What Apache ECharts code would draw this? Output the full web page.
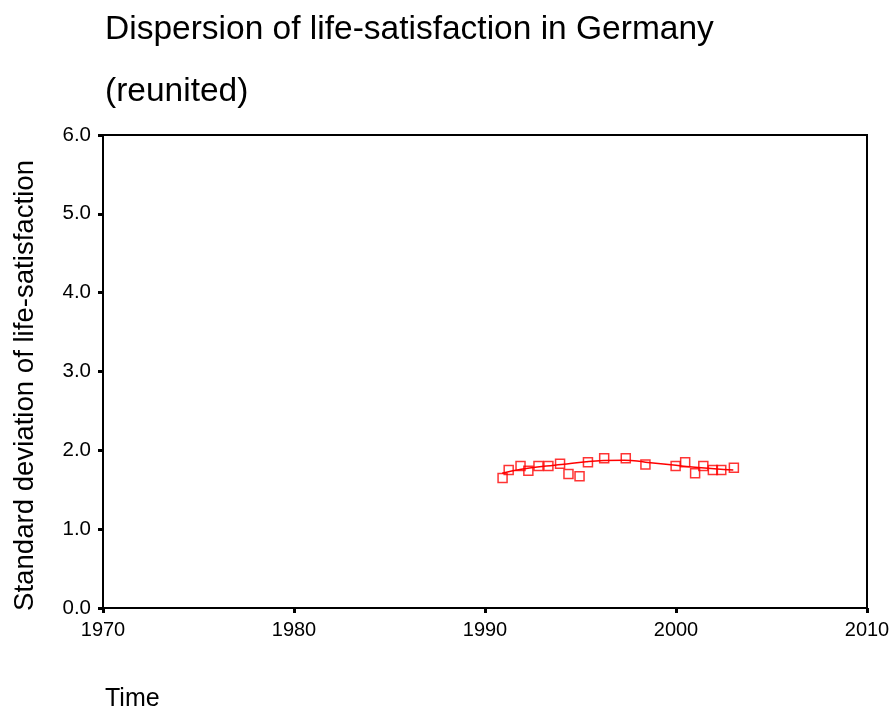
<!DOCTYPE html>
<html>
<head>
<meta charset="utf-8">
<script src="https://cdn.jsdelivr.net/npm/echarts@6/dist/echarts.min.js"></script>
<style>html,body{margin:0;padding:0;background:#fff}#c{width:895px;height:713px}</style>
</head>
<body>
<div id="c"></div>
<script>
var years = [1990.92, 1991.24, 1991.86, 1992.27, 1992.80, 1993.32, 1993.93, 1994.37, 1994.95, 1995.39,
             1996.24, 1997.37, 1998.40, 1999.98, 2000.48, 2001.00, 2001.43, 2001.93, 2002.37, 2003.03];
var sdValues = [1.65, 1.75, 1.80, 1.74, 1.80, 1.80, 1.83, 1.70, 1.67, 1.85,
                1.90, 1.90, 1.82, 1.80, 1.85, 1.71, 1.80, 1.75, 1.75, 1.78];
var fitYears = [1990.9, 1991.9, 1993.2, 1994.0, 1995.3, 1996.2, 1997.3, 1998.4, 2000.0, 2001.0, 2002.0, 2003.0];
var fitValues = [1.71, 1.76, 1.80, 1.82, 1.855, 1.87, 1.875, 1.85, 1.81, 1.785, 1.765, 1.75];
var xTicks = [1970, 1980, 1990, 2000, 2010];
var yTicks = [0, 1, 2, 3, 4, 5, 6];

var font = 'Liberation Sans, Arial, sans-serif';
var chart = echarts.init(document.getElementById('c'));
chart.setOption({
  animation: false,
  backgroundColor: '#fff',
  title: [
    {
      text: 'Dispersion of life-satisfaction in Germany\n(reunited)',
      left: 100, top: -6,
      textStyle: { fontFamily: font, fontSize: 33.5, fontWeight: 'normal', color: '#000', lineHeight: 62 }
    },
    {
      text: 'Time',
      left: 100, top: 682,
      textStyle: { fontFamily: font, fontSize: 25, fontWeight: 'normal', color: '#000' }
    }
  ],
  grid: {
    left: 103, right: 28, top: 135, bottom: 105,
    show: true, borderColor: '#000', borderWidth: 2, backgroundColor: 'transparent'
  },
  xAxis: {
    type: 'value',
    min: xTicks[0], max: xTicks[xTicks.length - 1], interval: 10,
    axisLine: { show: true, lineStyle: { color: '#000', width: 2 } },
    axisTick: { show: true, length: 5, lineStyle: { color: '#000', width: 3 } },
    splitLine: { show: false },
    axisLabel: { fontFamily: font, fontSize: 20, color: '#000', margin: 12,
      formatter: function (v) { return String(v); } }
  },
  yAxis: {
    type: 'value',
    min: yTicks[0], max: yTicks[yTicks.length - 1], interval: 1,
    name: 'Standard deviation of life-satisfaction',
    nameLocation: 'middle', nameRotate: 90, nameGap: 64,
    nameTextStyle: { fontFamily: font, fontSize: 27.6, color: '#000', padding: [0, 28, 0, 0] },
    axisLine: { show: true, lineStyle: { color: '#000', width: 2 } },
    axisTick: { show: true, length: 5, lineStyle: { color: '#000', width: 3 } },
    splitLine: { show: false },
    axisLabel: { fontFamily: font, fontSize: 20.5, color: '#000', margin: 12,
      formatter: function (v) { return v.toFixed(1); } }
  },
  series: [
    {
      type: 'line',
      data: fitYears.map(function (y, i) { return [y, fitValues[i]]; }),
      smooth: true,
      showSymbol: false,
      lineStyle: { color: '#ff0000', width: 1.5 },
      z: 2
    },
    {
      type: 'scatter',
      data: years.map(function (y, i) { return [y, sdValues[i]]; }),
      symbol: 'rect',
      symbolSize: 9,
      itemStyle: { color: 'rgba(0,0,0,0)', borderColor: '#ff0000', borderWidth: 1.5 },
      z: 3
    }
  ]
});
</script>
</body>
</html>
